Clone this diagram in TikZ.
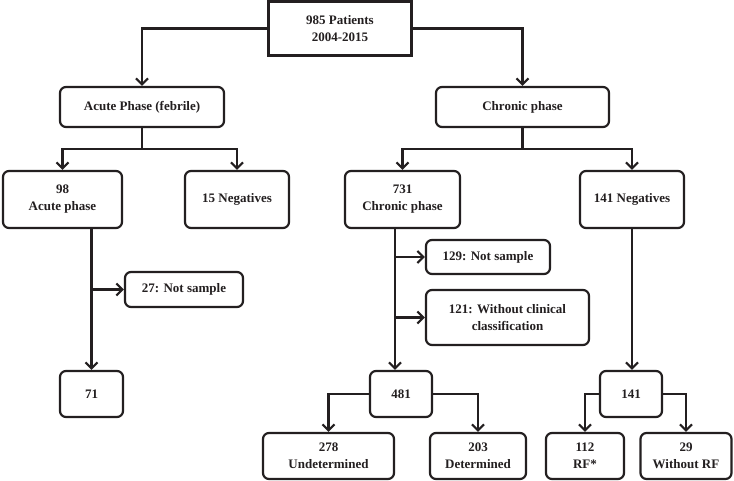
\documentclass[tikz,border=0pt]{standalone}
\usepackage{fontspec}
\setmainfont{Liberation Serif}
\usepackage{xcolor}
\usepackage{tikz}
\usetikzlibrary{shapes,arrows.meta,positioning,calc}
\definecolor{fcink}{HTML}{231F20}
\tikzset{
    flow/.style={rectangle, rounded corners=6pt,
        draw=fcink, line width=2.2pt, fill=white,
        minimum width=#1, inner sep=2pt, align=center,
        font=\fontsize{13}{17}\selectfont\bfseries, text=fcink},
    flowarrow/.style={-{Straight Barb[length=6pt,width=12pt]},
        line width=2.2pt, color=fcink},
    flowline/.style={line width=2.2pt, color=fcink},
}

\begin{document}
\begin{tikzpicture}[x=1pt, y=-1pt]
    \useasboundingbox (0,0) rectangle (734,481);

    % ── Cohort ─────────────────────────────────────────────────────────────
    \node[flow=143pt, rounded corners=0pt, minimum height=54pt] (cohort)
        at (340,28.5) {985 Patients\\2004-2015};

    % ── Phases ─────────────────────────────────────────────────────────────
    \node[flow=164pt, minimum height=40pt] (acute)
        at (142,107) {Acute Phase (febrile)};
    \node[flow=173pt, minimum height=40pt] (chronic)
        at (522.5,107) {Chronic phase};

    % ── Acute branch ───────────────────────────────────────────────────────
    \node[flow=119pt, minimum height=57pt] (acute98)
        at (62.5,199.5) {98\\Acute phase};
    \node[flow=104pt, minimum height=57pt] (neg15)
        at (237,199.5) {15 Negatives};
    \node[flow=118pt, minimum height=35pt] (ns27)
        at (184,289.5) {27: Not sample};
    \node[flow=63pt, minimum height=46pt] (n71)
        at (91.5,394) {71};

    % ── Chronic branch ─────────────────────────────────────────────────────
    \node[flow=115pt, minimum height=57pt] (chr731)
        at (402.5,199.5) {731\\Chronic phase};
    \node[flow=104pt, minimum height=57pt] (neg141)
        at (632,199.5) {141 Negatives};
    \node[flow=124pt, minimum height=34pt] (ns129)
        at (488,257) {129: Not sample};
    \node[flow=163pt, minimum height=55pt] (wc121)
        at (507.5,317.5) {121: Without clinical\\classification};
    \node[flow=62pt, minimum height=46pt] (n481)
        at (401,394) {481};
    \node[flow=62pt, minimum height=46pt] (n141)
        at (631,394) {141};

    % ── Outcomes ───────────────────────────────────────────────────────────
    \node[flow=131pt, minimum height=46pt] (und278)
        at (328.5,456) {278\\Undetermined};
    \node[flow=96pt, minimum height=46pt] (det203)
        at (478,456) {203\\Determined};
    \node[flow=78pt, minimum height=46pt] (rf112)
        at (585,456) {112\\RF*};
    \node[flow=91pt, minimum height=46pt] (wrf29)
        at (686,456) {29\\Without RF};

    % ── Junctions ──────────────────────────────────────────────────────────
    \coordinate (ajoin) at ($(acute.south)+(0,21)$);
    \coordinate (cjoin) at ($(chronic.south)+(0,21)$);
    \coordinate (aline) at (acute98.south -| n71.north);
    \coordinate (cline) at ([xshift=-7.5pt]chr731.south);

    % ── Arrows ─────────────────────────────────────────────────────────────
    \draw[flowarrow] (cohort.west) -| (acute.north);
    \draw[flowarrow] (cohort.east) -| (chronic.north);

    \draw[flowline]  (acute.south) -- (ajoin);
    \draw[flowarrow] (ajoin) -| (acute98.north);
    \draw[flowarrow] (ajoin) -| (neg15.north);
    \draw[flowarrow] (aline) -- (n71.north);
    \draw[flowarrow] (aline |- ns27.west) -- (ns27.west);

    \draw[flowline]  (chronic.south) -- (cjoin);
    \draw[flowarrow] (cjoin) -| (chr731.north);
    \draw[flowarrow] (cjoin) -| (neg141.north);
    \draw[flowarrow] (cline) -- (cline |- n481.north);
    \draw[flowarrow] (cline |- ns129.west) -- (ns129.west);
    \draw[flowarrow] (cline |- wc121.west) -- (wc121.west);
    \draw[flowarrow] (n481.west) -| (und278.north);
    \draw[flowarrow] (n481.east) -| (det203.north);

    \draw[flowarrow] (neg141.south) -- (neg141.south |- n141.north);
    \draw[flowarrow] (n141.west) -| (rf112.north);
    \draw[flowarrow] (n141.east) -| (wrf29.north);

\end{tikzpicture}
\end{document}
